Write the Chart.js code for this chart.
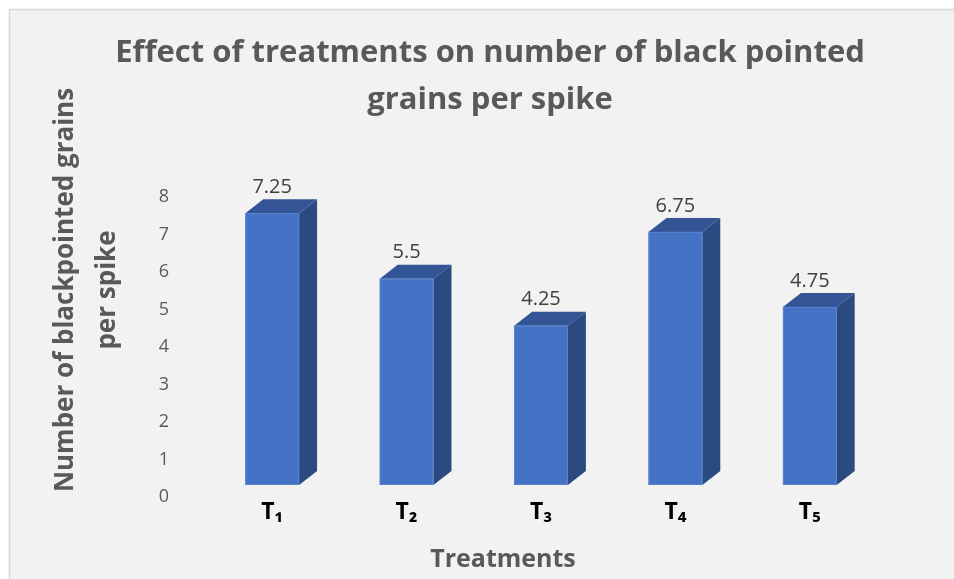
<!DOCTYPE html>
<html>
<head>
<meta charset="utf-8">
<script src="https://cdn.jsdelivr.net/npm/chart.js@4.4.1/dist/chart.umd.min.js"></script>
<style>
  body { margin: 0; background: #ffffff; }
  #wrap { position: relative; width: 954px; height: 579px; }
</style>
</head>
<body>
<div id="wrap"><canvas id="chart" width="954" height="579"></canvas></div>
<script>
const categories = ['T\u2081', 'T\u2082', 'T\u2083', 'T\u2084', 'T\u2085']
const values = [7.25, 5.5, 4.25, 6.75, 4.75]
const yTicks = [0, 1, 2, 3, 4, 5, 6, 7, 8]

const titleLines = ['Effect of treatments on number of black pointed', 'grains per spike']
const yTitleLines = ['Number of blackpointed grains', 'per spike']
const xTitle = 'Treatments'

const FONT = "'Open Sans', 'Noto Sans', sans-serif"
const GREY = '#595959'

// frame + background like the office chart area
const framePlugin = {
    id: 'frame',
    beforeDraw(chart) {
        const ctx = chart.ctx
        ctx.save()
        ctx.fillStyle = '#f2f2f2'
        ctx.fillRect(9, 9, chart.width, chart.height)
        ctx.strokeStyle = '#d6d6d6'
        ctx.lineWidth = 1.5
        ctx.beginPath()
        ctx.moveTo(9.5, chart.height)
        ctx.lineTo(9.5, 9.5)
        ctx.lineTo(chart.width, 9.5)
        ctx.stroke()
        ctx.restore()
    }
}

// fake 3d columns drawn from the bar elements
const lift = 12
const depthX = 18
const depthY = 14
const columnPlugin = {
    id: 'columns3d',
    afterDatasetsDraw(chart) {
        const ctx = chart.ctx
        const meta = chart.getDatasetMeta(0)
        ctx.save()
        meta.data.forEach((bar, i) => {
            const w = bar.width
            const left = bar.x - w / 2
            const right = bar.x + w / 2
            const top = bar.y - lift
            const bottom = bar.base - lift

            // side
            ctx.fillStyle = '#2b4a80'
            ctx.beginPath()
            ctx.moveTo(right, top)
            ctx.lineTo(right + depthX, top - depthY)
            ctx.lineTo(right + depthX, bottom - depthY)
            ctx.lineTo(right, bottom)
            ctx.closePath()
            ctx.fill()

            // top
            ctx.fillStyle = '#335596'
            ctx.beginPath()
            ctx.moveTo(left, top)
            ctx.lineTo(left + depthX, top - depthY)
            ctx.lineTo(right + depthX, top - depthY)
            ctx.lineTo(right, top)
            ctx.closePath()
            ctx.fill()

            // front
            ctx.fillStyle = '#4472c4'
            ctx.fillRect(left, top, w, bottom - top)
            ctx.strokeStyle = '#5b82ca'
            ctx.lineWidth = 1
            ctx.strokeRect(left + 0.5, top + 0.5, w - 1, bottom - top - 1)

            // value label
            ctx.fillStyle = '#404040'
            ctx.font = "20px " + FONT
            ctx.textAlign = 'center'
            ctx.textBaseline = 'bottom'
            ctx.fillText(String(values[i]), bar.x, top - depthY - 2)
        })
        ctx.restore()
    }
}

// titles placed where the original has them (not centred on the plot)
const titlePlugin = {
    id: 'titles',
    afterDraw(chart) {
        const ctx = chart.ctx
        ctx.save()
        ctx.fillStyle = GREY
        ctx.textAlign = 'center'
        ctx.textBaseline = 'middle'

        ctx.font = "bold 31px " + FONT
        ctx.fillText(titleLines[0], 490, 53)
        ctx.fillText(titleLines[1], 490, 100)

        ctx.font = "bold 25px " + FONT
        ctx.fillText(xTitle, 503, 560)

        ctx.font = "bold 26px " + FONT
        ctx.translate(0, 290)
        ctx.rotate(-Math.PI / 2)
        ctx.fillText(yTitleLines[0], 0, 66)
        ctx.fillText(yTitleLines[1], 0, 108)
        ctx.restore()
    }
}

const chart = new Chart(document.getElementById('chart'), {
    type: 'bar',
    data: {
        labels: categories,
        datasets: [{
            data: values,
            backgroundColor: 'rgba(0,0,0,0)',
            borderWidth: 0,
            barPercentage: 0.4,
            categoryPercentage: 1
        }]
    },
    options: {
        responsive: false,
        animation: false,
        layout: { padding: { left: 0, right: 77, top: 197, bottom: 0 } },
        plugins: {
            legend: { display: false },
            tooltip: { enabled: false },
            title: { display: false }
        },
        scales: {
            x: {
                grid: { display: false, drawTicks: false },
                border: { display: false },
                ticks: {
                    color: '#000000',
                    padding: 2,
                    font: { family: "'Noto Sans', 'DejaVu Sans', sans-serif", size: 23, weight: 'bold' }
                },
                afterFit(scale) { scale.height = 82 }
            },
            y: {
                min: 0,
                max: 8,
                afterBuildTicks(scale) { scale.ticks = yTicks.map(v => ({ value: v })) },
                grid: { display: false, drawTicks: false },
                border: { display: false },
                ticks: {
                    color: GREY,
                    padding: 36,
                    font: { family: FONT, size: 18 }
                },
                afterFit(scale) { scale.width = 205 }
            }
        }
    },
    plugins: [framePlugin, columnPlugin, titlePlugin]
})
</script>
</body>
</html>
